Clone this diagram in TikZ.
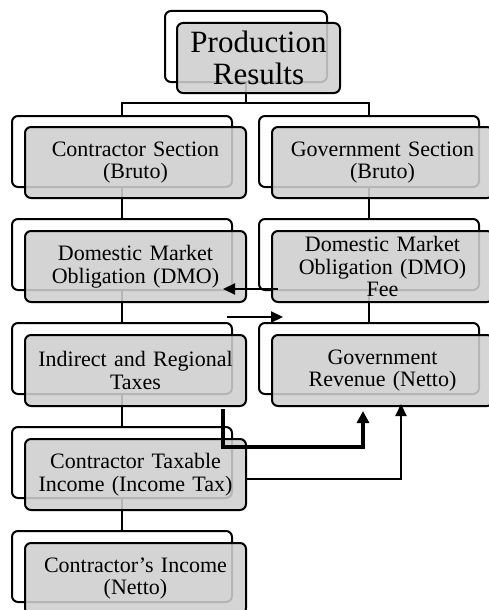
\documentclass[tikz,border=0pt]{standalone}
\usepackage{fontspec}
\setmainfont{Liberation Serif}
\usetikzlibrary{arrows.meta}
\begin{document}
\begin{tikzpicture}[x=1pt,y=-1pt,
  backbox/.style={draw, line width=2pt, rounded corners=6pt, fill=white, minimum width=220pt, minimum height=71pt, inner sep=0pt, outer sep=0pt, anchor=north west},
  frontbox/.style={draw, line width=2pt, rounded corners=6pt, fill=black!19, fill opacity=0.88, draw opacity=1, text opacity=1, minimum width=221pt, minimum height=71pt, inner sep=0pt, outer sep=0pt, anchor=north west, text width=215pt, align=center, font=\fontsize{22}{22.5}\selectfont},
  conn/.style={line width=2pt},
  arr/.style={line width=2.2pt, -{Triangle[length=12pt,width=11pt]}},
  thickarr/.style={line width=3.2pt, -{Triangle[length=12pt,width=12pt]}},
]
\useasboundingbox (0,0) rectangle (488,610);
% back boxes
\node[backbox, minimum width=162pt] (topb) at (165,11) {};
\node[backbox] (l1b) at (12,116) {};
\node[backbox] (l2b) at (12,219) {};
\node[backbox] (l3b) at (12,323) {};
\node[backbox] (l4b) at (12,427) {};
\node[backbox] (l5b) at (12,531) {};
\node[backbox] (r1b) at (259,116) {};
\node[backbox] (r2b) at (259,219) {};
\node[backbox] (r3b) at (259,323) {};
% connectors
\coordinate (hub) at (246,103);
\draw[conn] (topb.south) -- (hub);
\draw[conn] (l1b.north) |- (hub) -| (r1b.north);
\draw[conn] (l1b.south) -- (l2b.north);
\draw[conn] (l2b.south) -- (l3b.north);
\draw[conn] (l3b.south) -- (l4b.north);
\draw[conn] (l4b.south) -- (l5b.north);
\draw[conn] (r1b.south) -- (r2b.north);
\draw[conn] (r2b.south) -- (r3b.north);
% front boxes
\node[frontbox, minimum width=163pt, minimum height=70pt, text width=160pt, font=\fontsize{31}{31.5}\selectfont] (topf) at (177,23) {Production\\Results};
\node[frontbox] (l1f) at (25,127) {Contractor Section\\(Bruto)};
\node[frontbox] (l2f) at (25,231) {Domestic Market\\Obligation (DMO)};
\node[frontbox] (l3f) at (25,335) {Indirect and Regional\\Taxes};
\node[frontbox] (l4f) at (25,439) {Contractor Taxable\\Income (Income Tax)};
\node[frontbox] (l5f) at (25,543) {Contractor’s Income\\(Netto)};
\node[frontbox] (r1f) at (272,127) {Government Section\\(Bruto)};
\node[frontbox] (r2f) at (272,231) {Domestic Market\\Obligation (DMO)\\Fee};
\node[frontbox] (r3f) at (272,335) {Government\\Revenue (Netto)};
% arrows
\coordinate (a1s) at (278,289);
\coordinate (a1e) at (223,289);
\draw[arr] (a1s) -- (a1e);
\coordinate (a2s) at (227,317);
\coordinate (a2e) at (283,317);
\draw[arr] (a2s) -- (a2e);
\coordinate (a3s) at (223,409);
\coordinate (a3m) at (223,447);
\coordinate (a3e) at (363,411);
\draw[thickarr] (a3s) -- (a3m) -| (a3e);
\coordinate (a4s) at (247,479);
\coordinate (a4e) at (401,404);
\draw[arr] (a4s) -| (a4e);
\end{tikzpicture}
\end{document}
